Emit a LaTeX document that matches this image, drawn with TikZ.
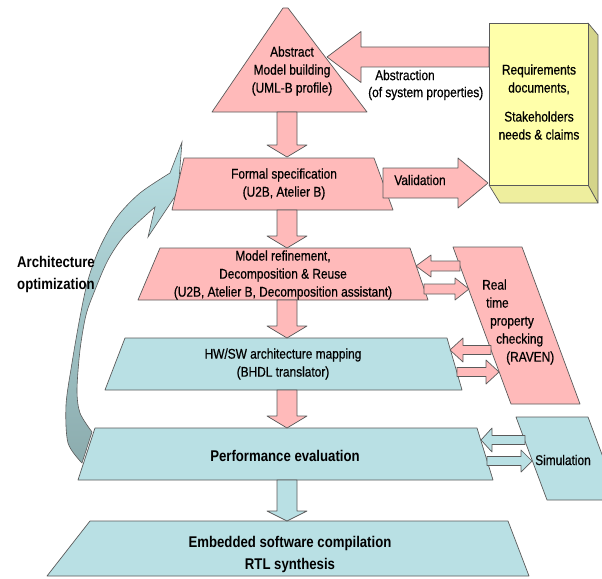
\documentclass[tikz,border=0pt]{standalone}
\usepackage{fontspec}
\setmainfont[FakeStretch=0.85]{Liberation Sans}
\newfontfamily\lblfont[FakeStretch=0.85,FakeBold=0.6]{Liberation Sans}
\usepackage{tikz}
\usetikzlibrary{calc,positioning}

\definecolor{pinkfill}{RGB}{255,186,186}
\definecolor{bluefill}{RGB}{185,224,228}
\definecolor{yellowfront}{RGB}{255,255,170}
\definecolor{yellowside}{RGB}{212,212,138}
\definecolor{yellowbottom}{RGB}{238,238,158}
\definecolor{edgegray}{RGB}{90,90,90}
\definecolor{archdark}{RGB}{140,172,174}

\tikzset{
  pinkbox/.style={draw=edgegray, fill=pinkfill, line width=0.7pt, line join=round},
  bluebox/.style={draw=edgegray, fill=bluefill, line width=0.7pt, line join=round},
  yellowbox/.style={draw=edgegray, line width=0.7pt, line join=round},
  lbl/.style={align=center, inner sep=0pt, font=\lblfont\fontsize{14}{18}\selectfont},
  biglbl/.style={align=center, inner sep=0pt, font=\fontsize{15.5}{22}\selectfont\bfseries}
}

% #1 style, #2 from, #3 to, #4 half shaft, #5 half head, #6 head length
\newcommand{\fatarrow}[6][pinkbox]{
  \coordinate (hb) at ($(#3)!#6!(#2)$);
  \draw[#1] ($(#2)!#4!90:(#3)$) -- ($(hb)!#4!-90:(#2)$) -- ($(hb)!#5!-90:(#2)$) -- (#3)
    -- ($(hb)!#5!90:(#2)$) -- ($(hb)!#4!90:(#2)$) -- ($(#2)!#4!-90:(#3)$) -- cycle;
}

\begin{document}
\begin{tikzpicture}[x=1pt,y=-1pt]
\useasboundingbox (0,0) rectangle (602,578);

% architecture optimization loop
\draw[draw=edgegray, line width=0.6pt, top color=bluefill, bottom color=archdark]
  (182,142) -- (170,173)
  -- plot[smooth] coordinates {(170,173) (140,193) (117,217) (100,247) (88,280) (80,317) (72,363) (66,405) (68,443) (82,463)}
  -- (92,432)
  -- plot[smooth] coordinates {(92,432) (80,413) (77,390) (80,350) (86,315) (95,290) (108,260) (125,235) (155,207)}
  -- (148,237) -- (178,192) -- cycle;
\node[biglbl, align=left, anchor=west] (archopt) at (17,274) {Architecture\\optimization};

% requirements box
\draw[yellowbox, fill=yellowside] (588,23) -- (598,35) -- (598,203) -- (588,185) -- cycle;
\draw[yellowbox, fill=yellowbottom] (489,185) -- (588,185) -- (598,203) -- (500,203) -- cycle;
\draw[yellowbox, fill=yellowfront] (489,23) rectangle (588,185);
\node[lbl] (req) at (539,102) {Requirements\\documents,\\[11pt]Stakeholders\\needs \& claims};

% flow shapes
\draw[pinkbox] (283,8) -- (288,8) -- (367,112) -- (212,112) -- cycle;
\node[lbl] (abstract) at (292,71) {Abstract\\Model building\\(UML-B profile)};

\draw[pinkbox] (184,158) -- (374,158) -- (393,210) -- (172,210) -- cycle;
\node[lbl] (formal) at (284,184) {Formal specification\\(U2B, Atelier B)};

\draw[pinkbox] (160,248) -- (410,248) -- (428,300) -- (138,300) -- cycle;
\node[lbl] (refine) at (283,275) {Model refinement,\\Decomposition \& Reuse\\(U2B, Atelier B, Decomposition assistant)};

\draw[bluebox] (125,338) -- (447,338) -- (462,390) -- (105,390) -- cycle;
\node[lbl] (mapping) at (283,364) {HW/SW architecture mapping\\(BHDL translator)};

\draw[bluebox] (95,428) -- (477,428) -- (493,480) -- (78,480) -- cycle;
\node[biglbl] (perf) at (285,456) {Performance evaluation};

\draw[bluebox] (90,521) -- (508,521) -- (529,576) -- (47,576) -- cycle;
\node[biglbl] (compile) at (290,554) {Embedded software compilation\\RTL synthesis};

\draw[pinkbox] (453,247) -- (522,247) -- (580,404) -- (511,404) -- cycle;
\node[lbl, align=left, anchor=west] (raven) at (482,322) {Real\\\hspace*{4pt}time\\\hspace*{8pt}property\\\hspace*{14pt}checking\\\hspace*{24pt}(RAVEN)};

\draw[bluebox] (516,417) -- (588,417) -- (619,500) -- (547,500) -- cycle;
\node[lbl] (sim) at (563,460) {Simulation};

% arrows
\coordinate (abstract-s) at (287,112);
\coordinate (formal-n) at (287,157);
\coordinate (formal-s) at (287,210);
\coordinate (refine-n) at (287,248);
\coordinate (refine-s) at (287,300);
\coordinate (mapping-n) at (287,338);
\coordinate (mapping-s) at (287,390);
\coordinate (perf-n) at (287,428);
\coordinate (perf-s) at (287,480);
\coordinate (compile-n) at (287,521);
\fatarrow{abstract-s}{formal-n}{10pt}{20pt}{12pt}
\fatarrow{formal-s}{refine-n}{10pt}{20pt}{12pt}
\fatarrow{refine-s}{mapping-n}{10pt}{20pt}{12pt}
\fatarrow{mapping-s}{perf-n}{10pt}{20pt}{12pt}
\fatarrow[bluebox]{perf-s}{compile-n}{10pt}{20pt}{10pt}

\coordinate (req-w) at (489,57);
\coordinate (abstract-e) at (327,57);
\fatarrow{req-w}{abstract-e}{10pt}{25.5pt}{34pt}
\node[lbl, align=left, anchor=west, font=\lblfont\fontsize{14}{17}\selectfont] (abstraction) at (368,85) {\hspace*{7pt}Abstraction\\(of system properties)};

\coordinate (formal-e) at (383,183);
\coordinate (req-sw) at (488,183);
\fatarrow{formal-e}{req-sw}{15pt}{25pt}{30pt}
\node[lbl] (validation) at (420,180) {Validation};

\coordinate (raven-w1) at (460,266);
\coordinate (refine-e1) at (416,266);
\coordinate (refine-e2) at (424,289);
\coordinate (raven-w2) at (469,289);
\fatarrow{raven-w1}{refine-e1}{5pt}{11pt}{15pt}
\fatarrow{refine-e2}{raven-w2}{5pt}{11pt}{14pt}

\coordinate (raven-w3) at (491,350);
\coordinate (mapping-e1) at (450,350);
\coordinate (mapping-e2) at (457,372);
\coordinate (raven-w4) at (499,372);
\fatarrow{raven-w3}{mapping-e1}{4.5pt}{12pt}{13pt}
\fatarrow{mapping-e2}{raven-w4}{4.5pt}{12pt}{13pt}

\coordinate (sim-w1) at (525,440);
\coordinate (perf-e1) at (481,440);
\coordinate (perf-e2) at (487,461);
\coordinate (sim-w2) at (532,461);
\fatarrow[bluebox]{sim-w1}{perf-e1}{4.5pt}{12pt}{11pt}
\fatarrow[bluebox]{perf-e2}{sim-w2}{4.5pt}{11pt}{11pt}
\end{tikzpicture}
\end{document}
